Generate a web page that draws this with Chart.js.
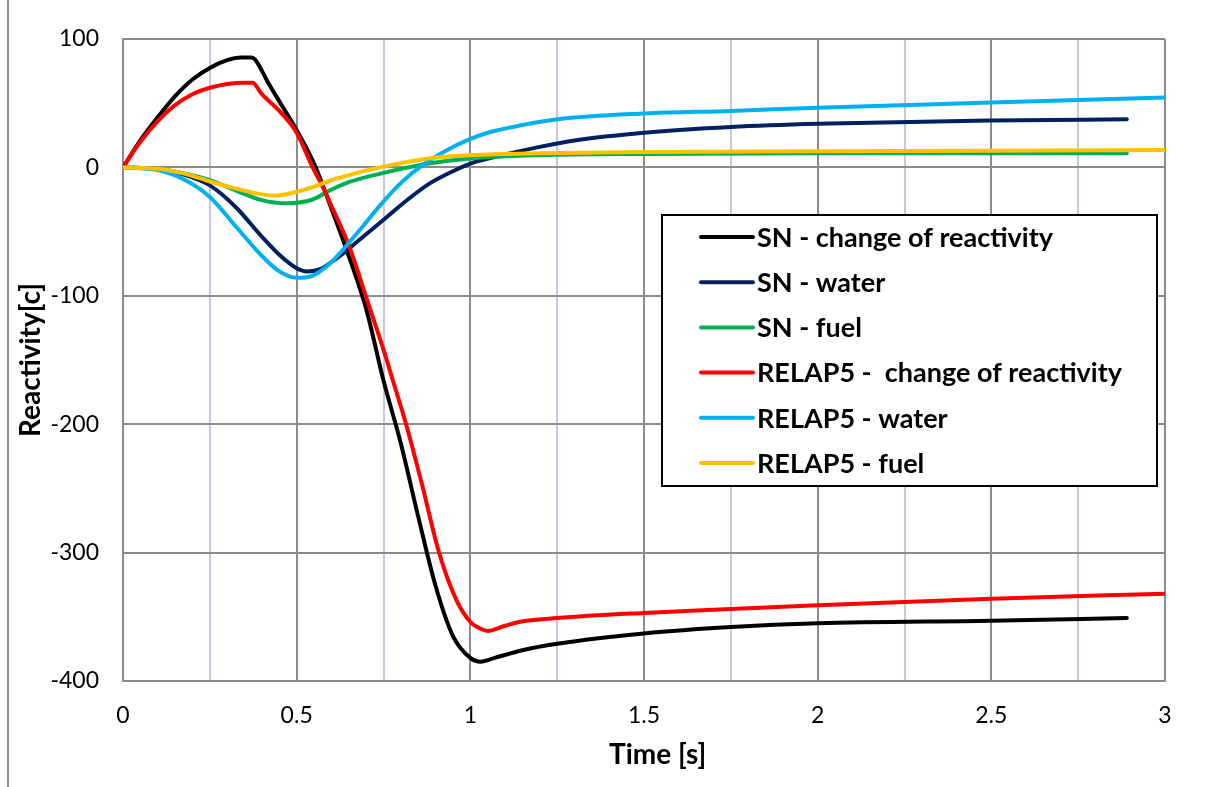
<!DOCTYPE html>
<html>
<head>
<meta charset="utf-8">
<script src="https://cdn.jsdelivr.net/npm/chart.js@4"></script>
<style>
  body { margin: 0; background: #fff; }
  #frame { position: absolute; left: 7px; top: 0; width: 1300px; height: 900px;
           border-left: 2px solid #8c8c8c; }
  canvas { position: absolute; left: 0; top: 0; }
</style>
</head>
<body>
<div id="frame"></div>
<canvas id="reactChart" width="1207" height="787"></canvas>
<script>
// series labels + colours
const seriesNames = [
  "SN - change of reactivity",
  "SN - water",
  "SN - fuel",
  "RELAP5 -  change of reactivity",
  "RELAP5 - water",
  "RELAP5 - fuel"
];
const seriesColors = ["#000000", "#002060", "#00b050", "#ff0000", "#00b0f0", "#ffc000"];

// SN - change of reactivity
const tSnChange = [0, 0.05, 0.1, 0.15, 0.2, 0.25, 0.3, 0.34, 0.37, 0.38, 0.42, 0.46, 0.5, 0.55, 0.6, 0.65, 0.7, 0.75, 0.8, 0.85, 0.9, 0.95, 1.0, 1.03, 1.07, 1.15, 1.25, 1.5, 1.75, 2.0, 2.5, 2.89];
const snChange = [0, 21, 39, 55.5, 68.5, 77.5, 83.5, 85.5, 85.5, 84, 65, 47, 29, 3, -32, -69, -110, -166, -215, -272, -326, -365, -382, -385, -382, -376, -371, -363, -358, -355, -353, -351];

// SN - water
const tSnWater = [0, 0.1, 0.18, 0.25, 0.325, 0.4, 0.45, 0.5, 0.53, 0.57, 0.604, 0.643, 0.7, 0.758, 0.82, 0.88, 0.95, 1.0, 1.1, 1.2, 1.3, 1.5, 1.75, 2.0, 2.5, 2.89];
const snWater = [0, -1.5, -6, -14, -31, -54, -68, -78.5, -81, -79, -73, -65, -52, -39, -25, -13, -3, 3, 10, 16, 21, 27, 31.5, 34, 36.5, 37.5];

// SN - fuel
const tSnFuel = [0, 0.1, 0.18, 0.25, 0.325, 0.4, 0.47, 0.546, 0.595, 0.65, 0.739, 0.88, 1.0, 1.2, 1.5, 2.0, 2.89];
const snFuel = [0, -1, -5, -10, -18, -25.5, -28, -25, -18, -11.5, -5, 3, 7, 9.5, 10.5, 11, 11];

// RELAP5 - change of reactivity
const tRelChange = [0, 0.05, 0.1, 0.15, 0.2, 0.25, 0.3, 0.35, 0.373, 0.4, 0.45, 0.5, 0.546, 0.575, 0.6, 0.652, 0.7, 0.75, 0.777, 0.815, 0.86, 0.91, 0.96, 1.0, 1.02, 1.05, 1.1, 1.14, 1.25, 1.5, 1.75, 2.0, 2.5, 3.0];
const relChange = [0, 20, 36, 48.5, 57, 62, 65, 66, 66, 57, 44, 27, 0, -15, -30, -62, -101, -142, -166, -200, -246, -300, -337, -354, -358, -361, -357, -354, -351, -347, -344, -341, -336, -332];

// RELAP5 - water
const tRelWater = [0, 0.1, 0.18, 0.25, 0.325, 0.4, 0.45, 0.5, 0.54, 0.595, 0.64, 0.69, 0.739, 0.786, 0.83, 0.88, 0.93, 0.99, 1.05, 1.15, 1.25, 1.5, 1.75, 2.0, 2.5, 3.0];
const relWater = [0, -2, -10, -23, -46, -69, -81, -86, -85, -75, -62, -46, -30, -16, -5, 5, 13, 21, 27, 33, 37.5, 42, 44, 46.5, 50.5, 54.5];

// RELAP5 - fuel
const tRelFuel = [0, 0.1, 0.18, 0.25, 0.325, 0.4, 0.44, 0.5, 0.55, 0.6, 0.65, 0.739, 0.88, 1.0, 1.2, 1.5, 2.0, 2.5, 3.0];
const relFuel = [0, -1, -5, -11, -16.5, -21, -22, -19, -15, -10, -6, 0, 7, 9.5, 11, 12, 12.5, 13, 13.5];

const xTicks = [0, 0.5, 1, 1.5, 2, 2.5, 3];
const yTicks = [-400, -300, -200, -100, 0, 100];

const seriesTimes = [tSnChange, tSnWater, tSnFuel, tRelChange, tRelWater, tRelFuel];
const seriesValues = [snChange, snWater, snFuel, relChange, relWater, relFuel];

const datasets = seriesNames.map((name, i) => ({
  label: name,
  data: seriesTimes[i].map((t, j) => ({ x: t, y: seriesValues[i][j] })),
  borderColor: seriesColors[i],
  backgroundColor: seriesColors[i],
  borderWidth: 4,
  pointRadius: 0,
  fill: false,
  cubicInterpolationMode: "monotone",
  borderCapStyle: "round",
  order: seriesNames.length - i
}));

// legend box drawn inside the plot area
const boxLegend = {
  id: "boxLegend",
  afterDatasetsDraw(chart) {
    const ctx = chart.ctx;
    const left = 662, top = 215, w = 495, h = 271;
    ctx.save();
    ctx.fillStyle = "#fff";
    ctx.fillRect(left, top, w, h);
    ctx.strokeStyle = "#000";
    ctx.lineWidth = 2;
    ctx.strokeRect(left, top, w, h);
    ctx.font = "bold 27px Lato";
    ctx.textBaseline = "middle";
    chart.data.datasets.forEach((ds, i) => {
      const y = top + 22 + i * 45.2;
      ctx.strokeStyle = ds.borderColor;
      ctx.lineWidth = 4;
      ctx.lineCap = "round";
      ctx.beginPath();
      ctx.moveTo(701, y);
      ctx.lineTo(753, y);
      ctx.stroke();
      ctx.fillStyle = "#000";
      ctx.fillText(ds.label, 757, y + 1);
    });
    ctx.restore();
  }
};

const ctx = document.getElementById("reactChart").getContext("2d");
const chart = new Chart(ctx, {
  type: "line",
  data: { datasets: datasets },
  plugins: [boxLegend],
  options: {
    responsive: false,
    animation: false,
    layout: { padding: { left: 0, top: 39, right: 42, bottom: 0 } },
    plugins: {
      legend: { display: false },
      tooltip: { enabled: false }
    },
    scales: {
      x: {
        type: "linear",
        min: 0,
        max: 3,
        afterFit: s => { s.height = 106; },
        ticks: {
          stepSize: 0.25,
          autoSkip: false,
          maxRotation: 0,
          padding: 21,
          color: "#000",
          font: { family: "Lato", size: 23 },
          callback: v => xTicks.includes(v) ? String(v) : ""
        },
        grid: {
          drawTicks: false,
          lineWidth: 2,
          color: c => (c.tick && xTicks.includes(c.tick.value)) ? "#8c8c8c" : "#c6c7dc"
        },
        border: { color: "#8c8c8c", width: 2 },
        title: {
          display: true,
          text: "    Time [s]",
          color: "#000",
          font: { family: "Lato", size: 28, weight: "bold" },
          padding: { top: 0, bottom: 15 }
        }
      },
      y: {
        min: -400,
        max: 100,
        afterFit: s => { s.width = 123; },
        afterBuildTicks: s => { s.ticks = yTicks.map(v => ({ value: v })); },
        ticks: {
          padding: 24,
          color: "#000",
          font: { family: "Lato", size: 23 }
        },
        grid: { drawTicks: false, lineWidth: 2, color: "#8c8c8c" },
        border: { color: "#8c8c8c", width: 2 },
        title: {
          display: true,
          text: "Reactivity[c]",
          color: "#000",
          font: { family: "Lato", size: 28, weight: "bold" },
          padding: { top: 14, bottom: 0 }
        }
      }
    }
  }
});
</script>
</body>
</html>
